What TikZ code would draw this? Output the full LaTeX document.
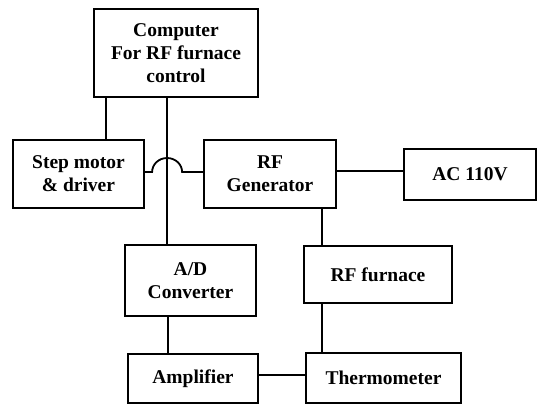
\documentclass[tikz,border=0pt]{standalone}
\usepackage{fontspec}
\setmainfont{Liberation Serif}
\begin{document}
\begin{tikzpicture}[x=1pt,y=-1pt,
  blk/.style={draw,line width=1.8pt,rectangle,inner sep=0pt,align=center,
    font=\fontsize{19.5}{23}\selectfont\bfseries},
  con/.style={line width=1.8pt}]
\useasboundingbox (0,0) rectangle (537,405);
\node[blk,minimum width=164pt,minimum height=88pt] (comp) at (176,53) {Computer\\For RF furnace\\control};
\node[blk,minimum width=131pt,minimum height=68pt] (step) at (78.5,174) {Step motor\\\& driver};
\node[blk,minimum width=132pt,minimum height=68pt] (gen) at (270,174) {RF\\Generator};
\node[blk,minimum width=132pt,minimum height=51pt] (ac) at (470,174.5) {AC 110V};
\node[blk,minimum width=148pt,minimum height=57pt] (furn) at (378,274.5) {RF furnace};
\node[blk,minimum width=155pt,minimum height=50pt] (thermo) at (383.5,378) {Thermometer};
\node[blk,minimum width=131pt,minimum height=71pt] (ad) at (190.5,280.5) {A/D\\Converter};
\node[blk,minimum width=130pt,minimum height=49pt] (amp) at (193,378.5) {Amplifier};
% computer to step motor
\coordinate (c1) at ([xshift=13pt]comp.south west);
\draw[con] (c1) -- (c1 |- step.north);
% computer to A/D
\coordinate (c2) at ([xshift=74pt]comp.south west);
\draw[con] (c2) -- (c2 |- ad.north);
% step motor to RF generator with hop
\coordinate (hop) at ([yshift=2pt]c2 |- step.east);
\draw[con] (step.east |- hop) -- ([xshift=-15pt]hop) arc[start angle=180,end angle=0,x radius=15pt,y radius=14pt] -- (gen.west |- hop);
% RF generator to AC
\coordinate (g1) at ([yshift=3pt]gen.east);
\draw[con] (g1) -- (g1 -| ac.west);
% RF generator to furnace to thermometer
\coordinate (f1) at ([xshift=19pt]furn.north west);
\draw[con] (f1) -- (f1 |- gen.south);
\coordinate (f2) at ([xshift=19pt]furn.south west);
\draw[con] (f2) -- (f2 |- thermo.north);
% A/D to amplifier
\coordinate (a1) at ([xshift=-22.5pt]ad.south);
\draw[con] (a1) -- (a1 |- amp.north);
% amplifier to thermometer
\coordinate (m1) at ([yshift=3.5pt]amp.east);
\draw[con] (m1) -- (m1 -| thermo.west);
\end{tikzpicture}
\end{document}
